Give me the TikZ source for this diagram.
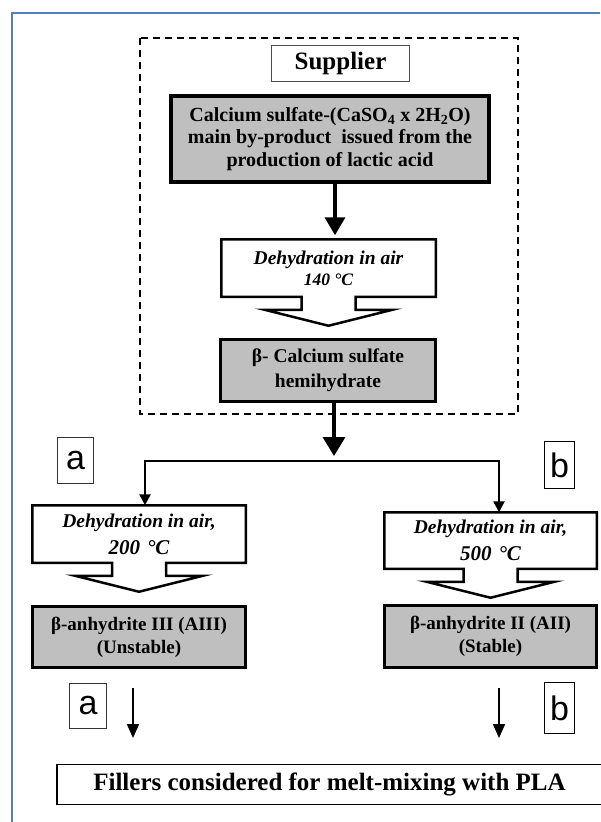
\documentclass[tikz,border=0pt]{standalone}
\usepackage{fontspec}
\setmainfont{Liberation Serif}
\newfontfamily\labelfont{Liberation Sans}
\usetikzlibrary{arrows.meta, calc}

\definecolor{frameblue}{RGB}{79,129,189}
\definecolor{boxgray}{RGB}{191,191,191}

% box with a broad arrow hanging from its bottom
\newcommand{\heatarrow}[1]{%
  \draw[line width=2.5pt, line join=miter] (#1.north west) -- (#1.north east) -- (#1.south east)
    -- ($(#1.south)+(27,0)$) -- ++(0,13) -- ++(37,0) -- ($(#1.south)+(0,29)$)
    -- ($(#1.south)+(-64,13)$) -- ++(37,0) -- ($(#1.south)+(-27,0)$)
    -- (#1.south west) -- cycle;}

\begin{document}
\begin{tikzpicture}[x=1pt, y=-1pt,
    every node/.style={align=center, inner sep=0pt, outer sep=0pt},
    graybox/.style={draw, fill=boxgray, line width=3pt},
    heatbox/.style={font=\bfseries\itshape\fontsize{19.5}{21}\selectfont},
    letterbox/.style={draw=black!80, line width=1.2pt, font=\labelfont\fontsize{34}{34}\selectfont},
    bigarrow/.style={line width=3.5pt, -{Triangle[width=22pt,length=19pt]}},
    branch/.style={line width=2.5pt, line join=miter, -{Triangle[width=11pt,length=11pt]}},
    thinarrow/.style={line width=2pt, -{Triangle[width=12pt,length=14pt]}}]
  \useasboundingbox (0,0) rectangle (600,822);
  \draw[frameblue, line width=1.5pt] (12,822) -- (12,13) -- (600,13);
  \draw[line width=1.5pt, dash pattern=on 7pt off 5pt] (140,38) rectangle (518,414);

  \node (sup) at (340.5,63.5) [draw=black!70, line width=1pt, minimum width=138pt, minimum height=36pt,
    font=\bfseries\fontsize{25}{25}\selectfont] {Supplier};
  \node (cas) at (330,139) [graybox, line width=3.5pt, minimum width=318pt, minimum height=86pt,
    font=\bfseries\fontsize{20}{22.5}\selectfont]
    {Calcium sulfate-(CaSO\textsubscript{4} x 2H\textsubscript{2}O)\\ main by-product\ \ issued from the\\ production of lactic acid};
  \node (d1) at (328.5,268) [heatbox, minimum width=214.5pt, minimum height=57.5pt]
    {Dehydration in air\\ {\fontsize{17.5}{21}\selectfont 140 °C}};
  \heatarrow{d1}
  \node (hemi) at (328,370.5) [graybox, minimum width=215pt, minimum height=62pt,
    font=\bfseries\fontsize{19.5}{25}\selectfont] {β- Calcium sulfate\\ hemihydrate};

  \coordinate (split) at (334,461);
  \node (d2) at (139,534) [heatbox, font=\bfseries\itshape\fontsize{19.5}{27}\selectfont, minimum width=213.5pt, minimum height=57.5pt]
    {Dehydration in air,\\ {\fontsize{21}{27}\selectfont 200\hspace{7pt}°C}};
  \heatarrow{d2}
  \node (d3) at (490.5,540.5) [heatbox, font=\bfseries\itshape\fontsize{19.5}{27}\selectfont, minimum width=212.5pt, minimum height=56.5pt]
    {Dehydration in air,\\ {\fontsize{21}{27}\selectfont 500\hspace{7pt}°C}};
  \heatarrow{d3}
  \node (an3) at (139,637) [graybox, minimum width=213pt, minimum height=61pt,
    font=\bfseries\fontsize{19}{23}\selectfont] {β-anhydrite III (AIII)\\ (Unstable)};
  \node (an2) at (490.5,636.5) [graybox, minimum width=212pt, minimum height=62pt,
    font=\bfseries\fontsize{19}{23}\selectfont] {β-anhydrite II (AII)\\ (Stable)};

  \node (la1) at (75.5,460.5) [letterbox, minimum width=36pt, minimum height=46pt] {a};
  \node (lb1) at (559.5,465) [letterbox, draw=black, line width=1.8pt, minimum width=30pt, minimum height=47pt] {b};
  \node (la2) at (88,706) [letterbox, minimum width=37pt, minimum height=45pt] {a};
  \node (lb2) at (559.5,708) [letterbox, draw=black, line width=1.8pt, minimum width=30pt, minimum height=51pt] {b};

  \node (fill) at (329.5,784.5) [draw, line width=1.2pt, minimum width=545pt, minimum height=40pt,
    font=\bfseries\fontsize{25}{25}\selectfont] {Fillers considered for melt-mixing with PLA};

  \coordinate (outA) at (133,688);
  \coordinate (endA) at (133,738);
  \coordinate (outB) at (499,688);
  \coordinate (endB) at (499,738);

  \draw[bigarrow, -{Triangle[width=20pt,length=18pt]}, shorten >=4pt] ([xshift=5pt]cas.south) -- ([xshift=6.5pt]d1.north);
  \draw[bigarrow] (hemi.south -| split) -- ([yshift=5pt]split);
  \draw[branch] (split) -| ([xshift=6pt]d2.north);
  \draw[branch] (split) -| ([xshift=8.5pt]d3.north);
  \draw[thinarrow] (outA) -- (endA);
  \draw[thinarrow] (outB) -- (endB);
\end{tikzpicture}
\end{document}
